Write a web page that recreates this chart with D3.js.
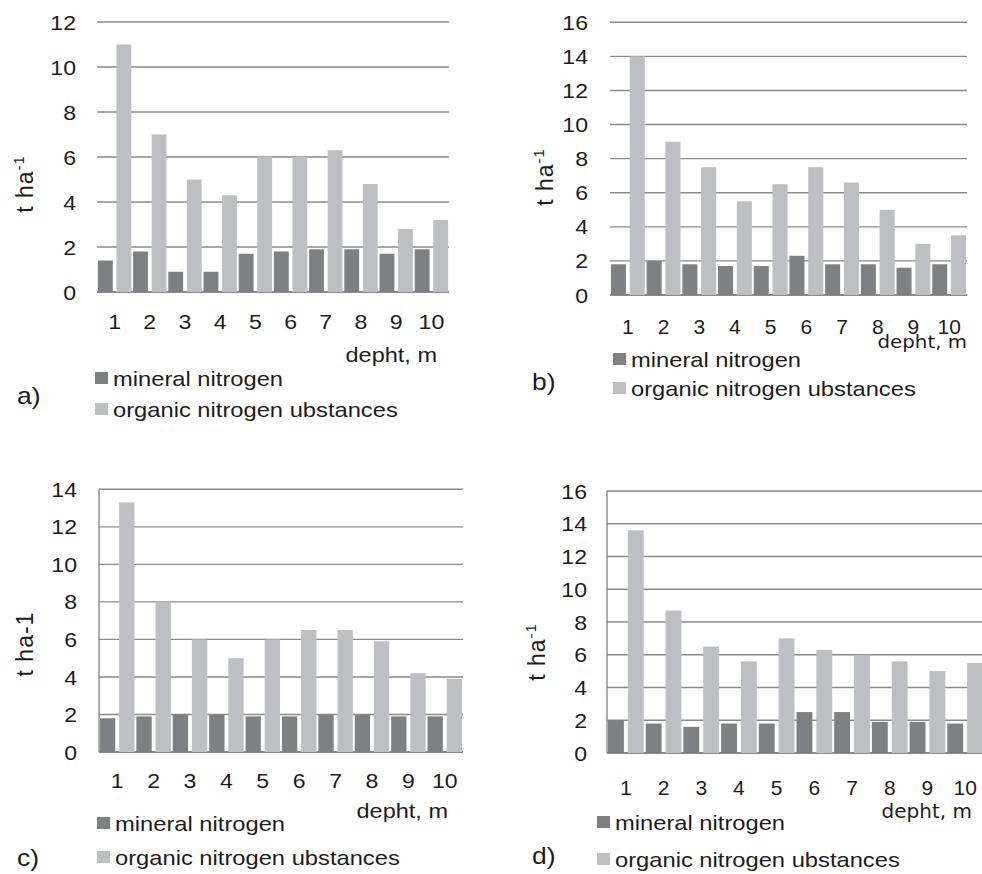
<!DOCTYPE html>
<html>
<head>
<meta charset="utf-8">
<script src="https://cdn.jsdelivr.net/npm/d3@7"></script>
<style>
  body { margin: 0; background: #fff; }
  text { font-family: "Liberation Sans", Arial, sans-serif; fill: #1e1b1c; }
</style>
</head>
<body>
<script>
// depth categories, same for all four panels
var depths = ["1", "2", "3", "4", "5", "6", "7", "8", "9", "10"];
var seriesNames = ["mineral nitrogen", "organic nitrogen ubstances"];

var mineralA = [1.4, 1.8, 0.9, 0.9, 1.7, 1.8, 1.9, 1.9, 1.7, 1.9];
var organicA = [11, 7, 5, 4.3, 6, 6, 6.3, 4.8, 2.8, 3.2];

var mineralB = [1.8, 2.0, 1.8, 1.7, 1.7, 2.3, 1.8, 1.8, 1.6, 1.8];
var organicB = [14, 9, 7.5, 5.5, 6.5, 7.5, 6.6, 5.0, 3.0, 3.5];

var mineralC = [1.8, 1.9, 2.0, 2.0, 1.9, 1.9, 2.0, 2.0, 1.9, 1.9];
var organicC = [13.3, 8.0, 6.0, 5.0, 6.0, 6.5, 6.5, 5.9, 4.2, 3.9];

var mineralD = [2.0, 1.8, 1.6, 1.8, 1.8, 2.5, 2.5, 1.9, 1.9, 1.8];
var organicD = [13.6, 8.7, 6.5, 5.6, 7.0, 6.3, 6.0, 5.6, 5.0, 5.5];

var ticksA = [0, 2, 4, 6, 8, 10, 12];
var ticksB = [0, 2, 4, 6, 8, 10, 12, 14, 16];
var ticksC = [0, 2, 4, 6, 8, 10, 12, 14];
var ticksD = [0, 2, 4, 6, 8, 10, 12, 14, 16];

var colors = ["#7f8084", "#bebfc3"];
var gridColor = "#8a8a8a";

var svg = d3.select("body").append("svg")
  .attr("width", 982)
  .attr("height", 874);

// text is a bit wider than plain Arial in the picture, so stretch it horizontally
function put(sel, x, y, sx) {
  return sel.attr("transform", `translate(${x},${y}) scale(${sx},1)`);
}

var panels = [
  { tag: "a)", mineral: mineralA, organic: organicA, ticks: ticksA, sup: true, leftAxis: false,
    left: 97, right: 449, top: 22, bottom: 292, tickX: 76, titleX: 33, titleY: 184,
    xTickY: 329, xFont: "Liberation Sans", xSize: 21, xSx: 1.1,
    deptX: 437, deptY: 362, deptFont: "Liberation Sans", deptSize: 21, deptSx: 1.12,
    legX: 95, legY1: 378, legY2: 409, tagX: 17, tagY: 404 },
  { tag: "b)", mineral: mineralB, organic: organicB, ticks: ticksB, sup: true, leftAxis: false,
    left: 610, right: 967, top: 22.3, bottom: 295, tickX: 588, titleX: 553, titleY: 177,
    xTickY: 334, xFont: "Liberation Sans", xSize: 20, xSx: 1.05,
    deptX: 967, deptY: 348, deptFont: "DejaVu Sans", deptSize: 18, deptSx: 1.1,
    legX: 613, legY1: 359, legY2: 388, tagX: 532, tagY: 390 },
  { tag: "c)", mineral: mineralC, organic: organicC, ticks: ticksC, sup: false, leftAxis: true,
    left: 99, right: 463, top: 489.3, bottom: 752, tickX: 77, titleX: 33, titleY: 644,
    xTickY: 788, xFont: "Liberation Sans", xSize: 21, xSx: 1.1,
    deptX: 448, deptY: 818, deptFont: "Liberation Sans", deptSize: 21, deptSx: 1.12,
    legX: 97, legY1: 823, legY2: 857, tagX: 17, tagY: 866 },
  { tag: "d)", mineral: mineralD, organic: organicD, ticks: ticksD, sup: true, leftAxis: true,
    left: 607, right: 984, top: 491, bottom: 753, tickX: 587, titleX: 545, titleY: 652,
    xTickY: 795, xFont: "Liberation Sans", xSize: 21, xSx: 1.0,
    deptX: 972, deptY: 818, deptFont: "DejaVu Sans", deptSize: 20, deptSx: 1.0,
    legX: 597, legY1: 822, legY2: 859, tagX: 532, tagY: 864 }
];

panels.forEach(function (p) {
  var g = svg.append("g");
  var yMax = d3.max(p.ticks);

  var x = d3.scaleBand().domain(depths).range([p.left, p.right]);
  var xs = d3.scaleBand().domain([0, 1]).range([0, x.bandwidth()])
    .paddingInner(0.2).paddingOuter(0.05);
  var y = d3.scaleLinear().domain([0, yMax]).range([p.bottom, p.top]);

  // gridlines
  g.selectAll("line.grid").data(p.ticks).enter().append("line")
    .attr("class", "grid")
    .attr("x1", p.left).attr("x2", p.right)
    .attr("y1", d => y(d)).attr("y2", d => y(d))
    .attr("stroke", gridColor)
    .attr("stroke-width", d => d === 0 ? 2 : 1.4);

  if (p.leftAxis) {
    g.append("line")
      .attr("x1", p.left).attr("x2", p.left)
      .attr("y1", p.top).attr("y2", p.bottom)
      .attr("stroke", gridColor).attr("stroke-width", 1.4);
  }

  // bars
  [p.mineral, p.organic].forEach(function (vals, si) {
    g.selectAll("rect.s" + si).data(vals).enter().append("rect")
      .attr("class", "s" + si)
      .attr("x", (d, i) => x(depths[i]) + xs(si))
      .attr("width", xs.bandwidth())
      .attr("y", d => y(d))
      .attr("height", d => y(0) - y(d))
      .attr("fill", colors[si]);
  });

  // y tick labels
  g.selectAll("text.yt").data(p.ticks).enter().append("text")
    .attr("class", "yt")
    .attr("transform", d => `translate(${p.tickX},${y(d)}) scale(1.1,1)`)
    .attr("dy", "0.36em")
    .attr("text-anchor", "end")
    .attr("font-size", 21)
    .text(d => d);

  // x tick labels
  g.selectAll("text.xt").data(depths).enter().append("text")
    .attr("class", "xt")
    .attr("transform", d => `translate(${x(d) + x.bandwidth() / 2},${p.xTickY}) scale(${p.xSx},1)`)
    .attr("text-anchor", "middle")
    .style("font-family", p.xFont)
    .attr("font-size", p.xSize)
    .text(d => d);

  put(g.append("text"), p.deptX, p.deptY, p.deptSx)
    .attr("text-anchor", "end")
    .style("font-family", p.deptFont)
    .attr("font-size", p.deptSize)
    .text("depht, m");

  // y title
  var t = g.append("text")
    .attr("transform", `translate(${p.titleX},${p.titleY}) rotate(-90)`)
    .attr("text-anchor", "middle")
    .attr("font-size", 23)
    .attr("letter-spacing", 1);
  if (p.sup) {
    t.append("tspan").text("t ha");
    t.append("tspan").attr("font-size", 15).attr("dy", -9).text("-1");
  } else {
    t.text("t ha-1");
  }

  // legend
  [p.legY1, p.legY2].forEach(function (ly, si) {
    g.append("rect")
      .attr("x", p.legX).attr("y", ly - 6)
      .attr("width", 13).attr("height", 12)
      .attr("fill", colors[si]);
    put(g.append("text"), p.legX + 18, ly + 7.5, 1.13)
      .attr("font-size", 21)
      .text(seriesNames[si]);
  });

  put(g.append("text"), p.tagX, p.tagY, 1.15)
    .attr("font-size", 23)
    .text(p.tag);
});
</script>
</body>
</html>
